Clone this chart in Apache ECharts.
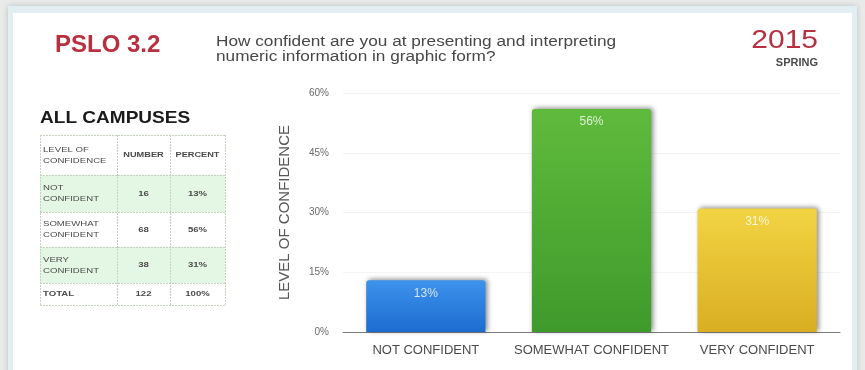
<!DOCTYPE html>
<html>
<head>
<meta charset="utf-8">
<script src="https://cdn.jsdelivr.net/npm/echarts@6/dist/echarts.min.js"></script>
<style>
  html, body { margin: 0; padding: 0; background: #e9eaea; }
  #chart { width: 865px; height: 370px; }
</style>
</head>
<body>
<div id="chart"></div>
<script>
// Survey response: confidence presenting / interpreting numeric info in graphic form
const categories = ['NOT CONFIDENT', 'SOMEWHAT CONFIDENT', 'VERY CONFIDENT'];
const tableLabels = ['NOT\nCONFIDENT', 'SOMEWHAT\nCONFIDENT', 'VERY\nCONFIDENT'];
const counts = [16, 68, 38];
const percents = [13, 56, 31];
const totalCount = 122;
const totalPercent = 100;
const yTicks = [0, 15, 30, 45, 60];

const barColors = [
  ['#3d93ec', '#1d6bd0'],
  ['#5fba3c', '#3f9a2c'],
  ['#f2d443', '#d9ae22']
];

const FONT = '"Liberation Sans", Arial, sans-serif';

// summary table on the left, built from the arrays above
function buildTable() {
  const x0 = 40, cols = [40, 117, 170, 225];
  const rows = [135, 175, 212, 247, 283, 305];
  const els = [];
  const fills = ['#ffffff', '#e4f6e4', '#ffffff', '#e4f6e4', '#ffffff'];
  for (let r = 0; r < 5; r++) {
    els.push({ type: 'rect', shape: { x: x0, y: rows[r], width: cols[3] - x0, height: rows[r + 1] - rows[r] },
      style: { fill: fills[r] }, z: 1 });
  }
  const lineStyle = { stroke: '#c4d2bf', lineWidth: 1, lineDash: [2, 1] };
  rows.forEach(y => els.push({ type: 'line', shape: { x1: cols[0], y1: y + 0.5, x2: cols[3], y2: y + 0.5 }, style: lineStyle, z: 2 }));
  cols.forEach(x => els.push({ type: 'line', shape: { x1: x + 0.5, y1: rows[0], x2: x + 0.5, y2: rows[5] }, style: lineStyle, z: 2 }));
  const cell = (text, c, r, align, sx, weight) => {
    const cx = align === 'left' ? cols[c] + 3 : (cols[c] + cols[c + 1]) / 2;
    els.push({ type: 'text', x: cx, y: (rows[r] + rows[r + 1]) / 2, z: 3, scaleX: sx,
      style: { text, fill: '#4a4a4a', font: (weight || 'normal') + ' 8px ' + FONT, align: align, verticalAlign: 'middle', lineHeight: 11 } });
  };
  cell('LEVEL OF\nCONFIDENCE', 0, 0, 'left', 1.2);
  cell('NUMBER', 1, 0, 'center', 1.15, 'bold');
  cell('PERCENT', 2, 0, 'center', 1.15, 'bold');
  for (let i = 0; i < categories.length; i++) {
    cell(tableLabels[i], 0, i + 1, 'left', 1.2);
    cell(String(counts[i]), 1, i + 1, 'center', 1.2, 'bold');
    cell(percents[i] + '%', 2, i + 1, 'center', 1.2, 'bold');
  }
  cell('TOTAL', 0, 4, 'left', 1.2, 'bold');
  cell(String(totalCount), 1, 4, 'center', 1.2, 'bold');
  cell(totalPercent + '%', 2, 4, 'center', 1.2, 'bold');
  return els;
}

const chart = echarts.init(document.getElementById('chart'));
chart.setOption({
  animation: false,
  backgroundColor: '#e9eaea',
  graphic: [
    { type: 'rect', shape: { x: 8, y: 6, width: 849, height: 380 }, z: -10,
      style: { fill: '#e3eef2', shadowColor: 'rgba(0,0,0,0.18)', shadowBlur: 6 } },
    { type: 'rect', shape: { x: 13, y: 13, width: 839, height: 370 }, z: -9,
      style: { fill: '#ffffff' } },
    { type: 'text', x: 55, y: 45, style: { text: 'PSLO 3.2', fill: '#b8303f', font: 'bold 24px ' + FONT, verticalAlign: 'middle' } },
    { type: 'text', x: 216, y: 50, scaleX: 1.23, style: { text: 'How confident are you at presenting and interpreting\nnumeric information in graphic form?',
      fill: '#474747', font: '14px ' + FONT, verticalAlign: 'middle', lineHeight: 15 } },
    { type: 'text', x: 818, y: 41, scaleX: 1.2, style: { text: '2015', fill: '#b8303f', font: '25px ' + FONT, align: 'right', verticalAlign: 'middle' } },
    { type: 'text', x: 818, y: 63, scaleX: 1.1, style: { text: 'SPRING', fill: '#4a4a4a', font: 'bold 10px ' + FONT, align: 'right', verticalAlign: 'middle' } },
    { type: 'text', x: 40, y: 118, scaleX: 1.12, style: { text: 'ALL CAMPUSES', fill: '#1a1a1a', font: 'bold 17px ' + FONT, verticalAlign: 'middle' } },
    ...buildTable()
  ],
  grid: { left: 343, right: 25, top: 93, bottom: 38 },
  xAxis: {
    type: 'category',
    data: categories,
    axisLine: { lineStyle: { color: '#7a7a7a', width: 1 } },
    axisTick: { show: false },
    axisLabel: { color: '#4a4a4a', fontSize: 13, fontFamily: FONT, margin: 12, interval: 0 }
  },
  yAxis: {
    type: 'value',
    min: yTicks[0],
    max: yTicks[yTicks.length - 1],
    interval: 15,
    name: 'LEVEL OF CONFIDENCE',
    nameLocation: 'middle',
    nameRotate: 90,
    nameGap: 51,
    nameTextStyle: { color: '#555', fontSize: 15, fontFamily: FONT },
    axisLine: { show: false },
    axisTick: { show: false },
    axisLabel: { color: '#6a6a6a', fontSize: 10, fontFamily: FONT, margin: 14, formatter: '{value}%' },
    splitLine: { lineStyle: { color: '#f3f3f3' } }
  },
  series: [{
    type: 'bar',
    barWidth: '72%',
    data: percents.map((v, i) => ({
      value: v,
      itemStyle: {
        color: new echarts.graphic.LinearGradient(0, 0, 0, 1, [
          { offset: 0, color: barColors[i][0] },
          { offset: 1, color: barColors[i][1] }
        ])
      }
    })),
    itemStyle: {
      borderRadius: [3, 3, 0, 0],
      shadowColor: 'rgba(40,40,40,0.55)',
      shadowBlur: 5,
      shadowOffsetX: 2,
      shadowOffsetY: -1
    },
    label: {
      show: true,
      position: 'insideTop',
      distance: 7,
      formatter: '{c}%',
      color: 'rgba(255,255,255,0.8)',
      fontSize: 12,
      fontFamily: FONT
    }
  }]
});
</script>
</body>
</html>
